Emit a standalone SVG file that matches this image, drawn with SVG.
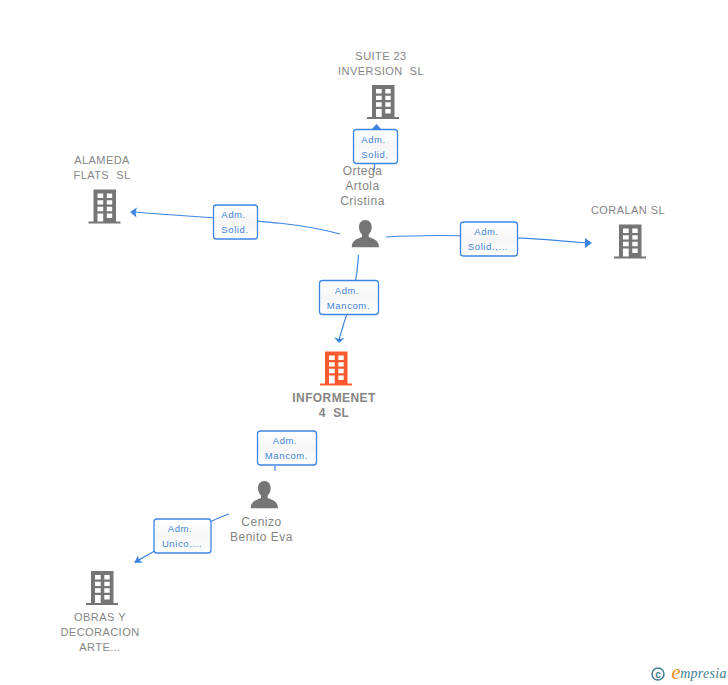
<svg xmlns="http://www.w3.org/2000/svg" width="728" height="685" viewBox="0 0 728 685">
<style>
text{font-family:"Liberation Sans",Arial,sans-serif;text-anchor:middle;white-space:pre}
.co{font-size:11px;fill:#858585;letter-spacing:.45px}
.main{font-size:12px;font-weight:bold;fill:#858585;letter-spacing:.4px}
.pe{font-size:12px;fill:#858585;letter-spacing:.5px}
.lb{font-size:9.5px;fill:#3f83d8;letter-spacing:.6px}
.box{fill:url(#bg);stroke:#3c85e4;stroke-width:1.3}
.ln{fill:none;stroke:#3c85e4;stroke-width:1.2}
.ar{fill:#3c85e4}
</style>
<defs>
<linearGradient id="bg" x1="0" y1="0" x2="0" y2="1"><stop offset="0" stop-color="#ffffff"/><stop offset="0.5" stop-color="#f6f6f6"/><stop offset="1" stop-color="#ffffff"/></linearGradient>
<path id="bld" fill-rule="evenodd" d="M0 0H22.500V32H27V34H-5V32H0ZM4 4V8.500H9.700V4ZM13.300 4V8.500H18.700V4ZM4 10.700V15H9.700V10.700ZM13.300 10.700V15H18.700V10.700ZM4 17.300V21.700H9.700V17.300ZM13.300 17.300V21.700H18.700V17.300ZM4 24V32H9.700V24ZM13.300 24V28.500H18.700V24Z"/>
<path id="psn" d="M13.700 0C17.600 0 20 3 20 7C20 10.500 18.600 13 17 14.500V17C20 18.500 27.300 19.500 27.300 27.300H0C0 19.500 7.300 18.500 10.300 17V14.500C8.700 13 7.300 10.500 7.300 7C7.300 3 9.800 0 13.700 0Z"/>
</defs>
<g id="connectors">
<path class="ln" d="M374 172Q375 160 376.500 130"/>
<path class="ar" d="M376.500 124L382 130H371Z"/>
<path class="ln" d="M340 234C290 220 230 220 134 212"/>
<path class="ar" d="M130 212L137 207.500L135.500 212.500L136.500 217.500Z"/>
<path class="ln" d="M386 237C450 233 520 237 588 243"/>
<path class="ar" d="M592 243L585 238V248Z"/>
<path class="ln" d="M358.500 255C357 290 347 310 339 340"/>
<path class="ar" d="M339 343L334 337.500L339.500 339L344.500 338Z"/>
<path class="ln" d="M275 466V471"/>
<path class="ln" d="M229 514C205 522 165 545 137 561"/>
<path class="ar" d="M134 563L138 555.500L139 560L143 562.500Z"/>
</g>
<g id="suite23"><use href="#bld" x="372" y="85" fill="#757575"/><text class="co" x="381" y="60">SUITE 23</text><text class="co" x="381" y="75">INVERSION  SL</text></g>
<g id="alameda"><use href="#bld" x="93.500" y="189.500" fill="#757575"/><text class="co" x="102" y="164">ALAMEDA</text><text class="co" x="102" y="179">FLATS  SL</text></g>
<g id="coralan"><use href="#bld" x="619" y="224.500" fill="#757575"/><text class="co" x="628" y="214">CORALAN SL</text></g>
<g id="informenet"><use href="#bld" x="325" y="351.500" fill="#ff5a2d"/><text class="main" x="334" y="402">INFORMENET</text><text class="main" x="334" y="417">4  SL</text></g>
<g id="obras"><use href="#bld" x="91" y="571" fill="#757575"/><text class="co" x="100" y="621">OBRAS Y</text><text class="co" x="100" y="636">DECORACION</text><text class="co" x="100" y="651">ARTE...</text></g>
<g id="ortega"><use href="#psn" x="351.700" y="220" fill="#757575"/><text class="pe" x="362.500" y="175">Ortega</text><text class="pe" x="362.500" y="190">Artola</text><text class="pe" x="362.500" y="205">Cristina</text></g>
<g id="cenizo"><use href="#psn" x="250.700" y="481" fill="#757575"/><text class="pe" x="261.500" y="526">Cenizo</text><text class="pe" x="261.500" y="541">Benito Eva</text></g>
<g id="lb-suite"><rect class="box" x="353.500" y="129.500" width="44" height="34" rx="3"/><text class="lb" x="373.500" y="143">Adm.</text><text class="lb" x="375" y="158">Solid.</text></g>
<g id="lb-alameda"><rect class="box" x="213.500" y="205" width="44" height="34" rx="3"/><text class="lb" x="233.500" y="218">Adm.</text><text class="lb" x="235" y="233">Solid.</text></g>
<g id="lb-coralan"><rect class="box" x="460.500" y="222" width="57" height="34" rx="3"/><text class="lb" x="486.500" y="235">Adm.</text><text class="lb" x="488" y="250">Solid.,...</text></g>
<g id="lb-informenet"><rect class="box" x="319.500" y="280.500" width="59" height="34" rx="3"/><text class="lb" x="347" y="294">Adm.</text><text class="lb" x="348.500" y="309">Mancom.</text></g>
<g id="lb-cenizo"><rect class="box" x="257.500" y="431" width="59" height="34" rx="3"/><text class="lb" x="285" y="444">Adm.</text><text class="lb" x="286.500" y="459">Mancom.</text></g>
<g id="lb-obras"><rect class="box" x="154" y="519" width="57" height="34" rx="3"/><text class="lb" x="180" y="532">Adm.</text><text class="lb" x="182" y="547">Unico,...</text></g>
<g id="logo"><circle cx="658" cy="674" r="6" fill="none" stroke="#3f7f93" stroke-width="1.500"/><text x="658" y="677.500" style="font-size:10px;font-weight:bold;fill:#3f7f93">c</text><text x="676" y="679" style="font-family:'Liberation Serif',serif;font-size:20px;font-style:italic;fill:#f08a1d">e</text><text x="703.500" y="678" style="font-family:'Liberation Serif',serif;font-size:14px;font-style:italic;fill:#3f7f93;letter-spacing:.3px">mpresia</text></g>
</svg>
